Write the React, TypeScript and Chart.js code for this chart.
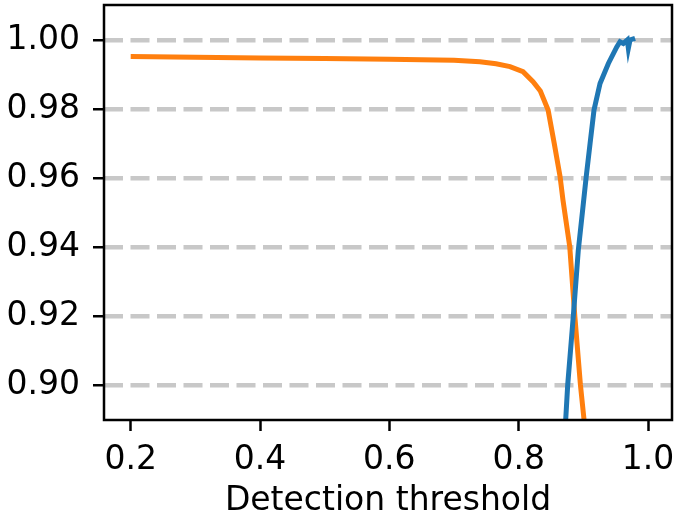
import React, { useEffect, useRef } from "react";
import { Chart, registerables } from "chart.js";

Chart.register(...registerables);

const X_TICKS = [0.2, 0.4, 0.6, 0.8, 1.0];
const Y_TICKS = [0.9, 0.92, 0.94, 0.96, 0.98, 1.0];

const ORANGE_X = [0.2, 0.3, 0.4, 0.5, 0.6, 0.7, 0.74, 0.765, 0.7866, 0.8067, 0.8222, 0.8335, 0.8455, 0.855, 0.864, 0.8685, 0.879, 0.8868, 0.8955, 0.9011, 0.906];
const ORANGE_Y = [0.9952, 0.995, 0.9948, 0.9946, 0.9944, 0.9941, 0.9937, 0.9931, 0.9923, 0.9908, 0.9879, 0.9852, 0.9797, 0.97, 0.9604, 0.9536, 0.94, 0.92, 0.9, 0.8899, 0.87];

const BLUE_X = [0.8667, 0.8727, 0.8758, 0.8845, 0.8922, 0.8985, 0.9042, 0.9104, 0.9165, 0.9258, 0.9387, 0.9517, 0.9567, 0.9618, 0.968, 0.9696, 0.9722, 0.98];
const BLUE_Y = [0.87, 0.8899, 0.9, 0.92, 0.9391, 0.95, 0.96, 0.97, 0.9797, 0.9874, 0.9932, 0.998, 0.9995, 0.999, 1.0, 0.9976, 1.0, 1.0005];

const FONT = "'DejaVu Sans', sans-serif";

const framePlugin = {
  id: "frame",
  afterDatasetsDraw(chart: any) {
    const { ctx, chartArea } = chart;
    ctx.save();
    ctx.strokeStyle = "#000";
    ctx.lineWidth = 2.5;
    ctx.strokeRect(chartArea.left, chartArea.top, chartArea.right - chartArea.left, chartArea.bottom - chartArea.top);
    ctx.restore();
  },
};

export default function App() {
  const ref = useRef<HTMLCanvasElement>(null);
  useEffect(() => {
    const chart = new Chart(ref.current as HTMLCanvasElement, {
      type: "line",
      data: {
        datasets: [
          {
            data: BLUE_X.map((x, i) => ({ x, y: BLUE_Y[i] })),
            borderColor: "#1f77b4",
            borderWidth: 5,
            pointRadius: 0,
            tension: 0,
            clip: 0,
          },
          {
            data: ORANGE_X.map((x, i) => ({ x, y: ORANGE_Y[i] })),
            borderColor: "#ff7f0e",
            borderWidth: 5,
            pointRadius: 0,
            tension: 0,
            clip: 0,
          },
        ],
      },
      options: {
        animation: false,
        responsive: false,
        events: [],
        layout: { padding: { top: 5, right: 7, left: 0, bottom: 0 } },
        plugins: { legend: { display: false }, tooltip: { enabled: false } },
        scales: {
          x: {
            type: "linear",
            min: 0.1587,
            max: 1.0371,
            afterBuildTicks: (s: any) => {
              s.ticks = X_TICKS.map((v) => ({ value: v }));
            },
            afterFit: (s: any) => {
              s.height = 104;
              s.paddingLeft = 0;
              s.paddingRight = 0;
              s.paddingTop = 0;
              s.paddingBottom = 0;
            },
            ticks: {
              callback: (v: any) => Number(v).toFixed(1),
              color: "#000",
              font: { family: FONT, size: 33 },
              padding: 10,
              maxRotation: 0,
              autoSkip: false,
            },
            grid: {
              drawOnChartArea: false,
              drawTicks: true,
              tickLength: 11,
              tickWidth: 2.5,
              tickColor: "#000",
              color: "#000",
            },
            border: { display: false },
            title: {
              display: true,
              text: "Detection threshold",
              color: "#000",
              font: { family: FONT, size: 33 },
              padding: { top: 0, bottom: 3 },
            },
          },
          y: {
            type: "linear",
            min: 0.88986,
            max: 1.01014,
            afterBuildTicks: (s: any) => {
              s.ticks = Y_TICKS.map((v) => ({ value: v }));
            },
            afterFit: (s: any) => {
              s.width = 104;
              s.paddingLeft = 0;
              s.paddingRight = 0;
              s.paddingTop = 0;
              s.paddingBottom = 0;
            },
            ticks: {
              callback: (v: any) => Number(v).toFixed(2),
              color: "#000",
              font: { family: FONT, size: 33 },
              padding: 13,
              autoSkip: false,
            },
            grid: {
              drawOnChartArea: true,
              drawTicks: true,
              color: "#c8c8c8",
              lineWidth: 4.5,
              tickLength: 11,
              tickWidth: 2.5,
              tickColor: "#000",
              tickBorderDash: [],
            },
            border: { display: false, dash: [19, 7.5] },
          },
        },
      },
      plugins: [framePlugin],
    } as any);
    return () => chart.destroy();
  }, []);
  return (
    <div style={{ position: "absolute", left: 0, top: 0, width: 679, height: 524, background: "#fff" }}>
      <canvas ref={ref} width={679} height={524} />
    </div>
  );
}
